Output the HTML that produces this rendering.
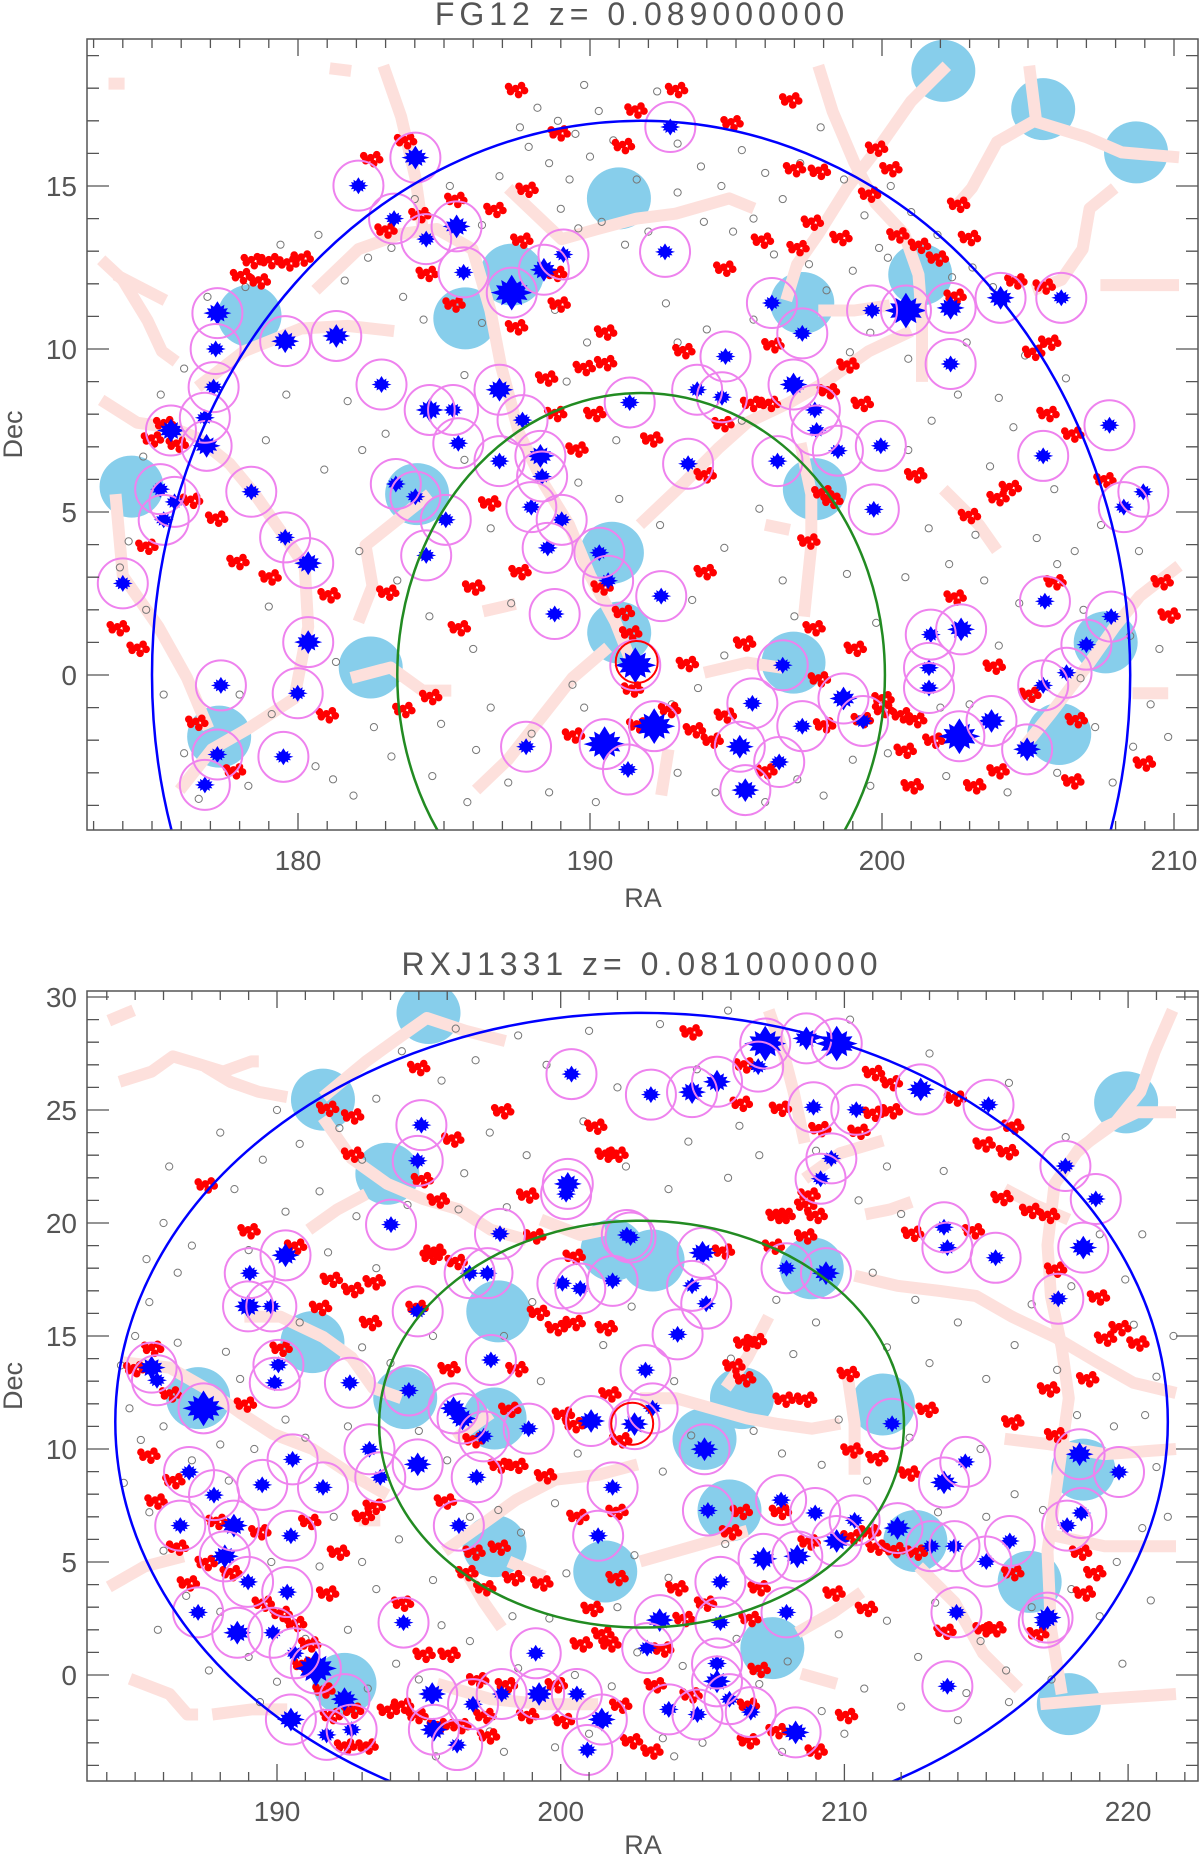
<!DOCTYPE html>
<html><head><meta charset="utf-8"><title>FG12 / RXJ1331 sky maps</title>
<style>
html,body{margin:0;padding:0;background:#fff;}
svg{display:block;}
text{font-family:"Liberation Sans",sans-serif;fill:#555;}
</style></head>
<body>
<svg id="chart" width="1200" height="1856" viewBox="0 0 1200 1856" xmlns="http://www.w3.org/2000/svg">
<defs>
<clipPath id="clipTop"><rect x="87" y="39" width="1111" height="791"/></clipPath>
<clipPath id="clipBot"><rect x="87" y="991" width="1111" height="790"/></clipPath>
</defs>
<g id="topPanel"></g>
<g id="botPanel"></g>
</svg>
<script>
// ===== FG12 panel data =====
const topTitle = "FG12  z=  0.089000000";
const topXTicks = [180,190,200,210];
const topYTicks = [0,5,10,15];
const topOuter = [191.75,0,16.75,17];
const topInner = [191.75,0,8.35,8.65];
const topRedRing = [191.6,0.4];
const topGroups = [[182.07,15.01,1],[184.02,15.87,2],[183.29,14.0,1],[184.39,13.37,1],[185.43,13.76,2],[185.67,12.35,1],[187.32,11.73,3],[189.09,12.9,1],[188.42,12.43,2],[177.24,11.10,2],[177.18,10.0,1],[177.11,8.83,1],[176.81,7.89,1],[175.65,7.5,2],[176.87,7.03,2],[175.28,5.70,1],[175.77,5.31,1],[175.40,4.76,1],[179.56,10.24,2],[181.31,10.4,2],[182.86,8.91,1],[184.51,8.13,2],[185.31,8.13,1],[185.49,7.11,1],[186.9,8.75,2],[187.69,7.82,1],[186.9,6.56,1],[188.3,6.72,2],[188.36,6.09,1],[187.99,5.15,1],[189.03,4.76,1],[188.55,3.90,1],[178.4,5.62,1],[179.56,4.22,1],[180.35,3.43,2],[183.35,5.86,1],[184.02,5.47,1],[185.06,4.76,1],[184.39,3.67,1],[174.0,2.81,1],[180.35,1.01,2],[179.99,-0.56,1],[177.36,-0.32,1],[177.24,-2.44,1],[176.81,-3.37,1],[179.5,-2.51,1],[187.81,-2.2,1],[190.5,-2.12,3],[191.3,-2.9,1],[188.79,1.87,1],[190.32,3.75,1],[190.62,2.89,1],[191.36,8.36,1],[191.55,0.3,3],
[192.75,16.81,1],[192.57,12.98,1],[196.23,11.41,1],[197.27,10.48,1],[199.66,11.18,1],[200.82,11.18,3],[202.35,11.26,2],[204.06,11.57,2],[206.14,11.57,1],[202.35,9.54,1],[194.64,9.77,1],[193.67,8.75,1],[194.52,8.52,1],[196.97,8.91,2],[197.7,8.13,1],[197.76,7.50,1],[198.49,6.88,1],[199.96,7.03,1],[196.42,6.56,1],[193.36,6.48,1],[199.72,5.08,1],[207.79,7.66,1],[205.52,6.72,1],[208.28,5.15,1],[208.95,5.62,1],[192.44,2.42,1],[205.58,2.26,1],[207.85,1.79,1],[201.67,1.24,1],[202.71,1.4,2],[201.61,0.22,1],[201.61,-0.4,1],[207.0,0.93,1],[206.32,0.07,1],[205.52,-0.32,1],[196.6,0.30,1],[195.56,-0.87,1],[198.68,-0.72,2],[197.27,-1.57,1],[199.35,-1.41,1],[195.13,-2.2,2],[196.48,-2.67,1],[195.32,-3.53,2],[192.2,-1.57,3],[202.65,-1.88,3],[203.75,-1.41,2],[204.97,-2.28,2]];
const topCyan = [[174.3,5.78],[178.34,11.02],[185.73,10.94],[187.32,12.28],[190.99,14.62],[184.08,5.55],[182.49,0.23],[177.3,-1.89],[190.75,3.75],[191.0,1.3],[202.1,18.53],[205.52,17.36],[208.7,16.03],[201.31,12.28],[197.27,11.41],[197.7,5.7],[196.97,0.38],[207.66,1.0],[206.07,-1.81]];
const topRed = [[178.4,12.74],[179.0,12.74],[179.62,12.67],[180.11,12.82],[178.03,12.28],[178.64,12.12],[175.4,7.74],[174.98,7.27],[175.83,7.11],[176.32,5.39],[177.18,4.84],[174.79,3.98],[177.91,3.51],[179.01,3.04],[181.03,2.49],[173.81,1.48],[174.49,0.85],[176.5,-1.42],[177.79,-2.91],[180.97,-1.19],[183.59,-1.03],[184.51,-0.63],[183.04,2.57],[185.49,1.48],[185.98,2.73],[187.57,3.2],[186.53,5.31],[189.52,6.96],[189.77,9.46],[190.5,10.55],[190.5,9.61],[190.13,8.05],[188.79,8.05],[188.48,9.14],[187.45,10.71],[187.81,14.93],[187.45,17.99],[188.91,16.66],[191.11,16.27],[191.54,17.36],[183.65,16.42],[182.49,15.87],[184.14,14.15],[182.98,13.68],[186.71,14.31],[185.37,14.62],[184.39,12.35],[185.31,11.41],[188.91,11.41],[188.79,12.35],[187.63,13.37],[191.36,1.32],[191.11,1.95],[191.42,-0.4],[189.4,-1.81],[191.6,-1.5],[190.38,2.73],
[192.93,17.99],[196.84,17.67],[199.78,16.19],[200.27,15.56],[194.83,16.97],[197.82,15.48],[196.97,15.56],[197.58,13.92],[197.09,13.14],[195.87,13.37],[194.58,12.51],[198.56,13.45],[199.54,14.78],[200.51,13.53],[201.25,13.21],[201.86,12.82],[202.59,14.47],[202.96,13.45],[204.55,12.12],[205.52,11.96],[205.71,10.24],[205.16,9.93],[202.47,11.65],[198.8,9.54],[199.29,8.36],[198.13,8.75],[196.23,10.16],[196.11,8.36],[195.5,8.36],[193.18,9.98],[194.52,7.74],[192.08,7.27],[193.91,6.17],[197.94,5.62],[198.25,5.39],[201.12,6.17],[203.94,5.47],[202.96,4.92],[204.36,5.78],[205.65,8.05],[206.5,7.42],[207.6,6.02],[209.56,2.89],[209.8,1.87],[202.47,2.42],[205.89,2.89],[193.91,3.2],[197.46,4.14],[197.64,1.48],[195.26,1.01],[199.05,0.85],[193.3,0.38],[192.69,-1.03],[193.54,-1.65],[194.15,-1.97],[200.02,-1.03],[200.63,-1.19],[201.12,-1.34],[200.76,-2.28],[201.74,-1.97],[201.0,-3.37],[203.14,-3.37],[203.94,-2.91],[206.5,-3.22],[206.62,-1.34],[203.81,0.3],[205.03,-0.56],[208.95,-2.67],[195.99,-2.91],[197.82,-0.09],[199.29,-1.34],[194.6,-1.2],[198.0,-1.5],[200.0,-0.7]];
const topGray = [[188.2,17.4],[188.9,17.0],[189.5,16.6],[190.3,17.3],[189.8,18.1],[187.9,16.2],[188.6,15.7],[189.3,15.2],[190.0,15.9],[192.3,17.9],[193.0,16.3],[193.8,15.6],[194.5,15.0],[195.2,16.1],[196.0,15.4],[196.6,14.6],[197.9,16.8],[198.7,15.2],[199.4,14.1],[200.3,15.0],[201.0,14.2],[201.9,13.5],[203.1,12.5],[203.8,11.9],[202.4,12.2],[200.2,12.8],[199.0,12.4],[198.1,11.8],[194.9,13.6],[193.9,13.9],[193.0,14.8],[192.0,13.6],[191.2,13.2],[190.4,13.9],[189.6,13.7],[186.3,13.8],[185.2,15.0],[184.0,14.6],[183.2,13.1],[182.4,12.8],[181.6,12.1],[180.7,13.5],[179.4,13.2],[178.2,11.9],[176.9,11.6],[176.1,9.4],[175.3,8.6],[174.7,6.7],[174.2,4.1],[173.9,3.3],[174.8,2.0],[175.4,-0.6],[176.1,-2.4],[176.6,-3.8],[178.3,-3.4],[179.1,-1.2],[180.6,-2.8],[181.9,-3.7],[183.2,-2.5],[184.6,-3.1],[185.8,-3.9],[186.6,-1.0],[187.2,-3.3],[188.6,-3.6],[189.4,-0.3],[190.2,-3.9],[193.0,-3.0],[193.7,-0.4],[194.6,0.6],[196.0,-3.9],[198.0,-3.7],[199.6,-3.4],[200.2,-2.4],[202.2,-3.1],[203.0,-0.9],[204.3,-3.6],[205.1,-0.7],[206.0,-3.0],[207.3,-1.6],[207.9,-3.3],[208.6,-2.2],[209.2,-0.9],[209.8,-1.9],[209.5,0.8],[208.5,1.2],[206.9,2.0],[206.0,3.4],[205.3,4.2],[204.7,2.2],[203.5,2.9],[202.3,3.4],[201.6,4.5],[200.8,3.0],[199.8,1.6],[200.9,6.9],[201.7,7.8],[202.6,8.6],[203.7,6.4],[204.5,7.6],[204.9,9.8],[206.3,9.1],[205.9,5.7],[203.2,4.3],[198.9,9.9],[199.6,10.5],[200.9,9.7],[197.5,12.6],[196.3,12.9],[195.6,10.9],[194.0,10.6],[193.0,10.2],[192.6,11.4],[189.9,10.2],[189.2,9.0],[188.8,11.2],[186.3,10.8],[185.7,9.2],[184.3,10.9],[183.6,11.6],[181.7,8.4],[182.2,6.9],[180.9,6.3],[178.9,7.2],[179.6,8.6],[186.6,4.5],[187.3,2.2],[186.0,0.8],[184.5,1.8],[183.4,2.9],[182.1,3.8],[181.3,0.4],[178.0,-0.6],[179.0,2.1],[189.8,-1.0],[192.4,4.6],[193.5,2.3],[194.6,3.9],[195.8,5.1],[196.6,2.9],[197.0,1.8],[198.8,3.1],[195.2,7.8],[191.0,5.4],[189.6,5.9],[190.9,7.2],[185.7,6.6],[183.0,7.4],[207.5,4.6],[208.8,3.8],[206.8,-0.1],[187.6,16.8],[190.8,16.4],[191.6,15.2],[186.9,15.3],[189.0,14.3],[195.6,14.0],[197.2,15.7],[199.9,13.1],[202.9,10.2],[204.0,8.5],[206.6,3.8],[204.0,0.9],[202.0,-1.0],[199.0,-2.6],[197.1,-3.2],[194.3,-3.6],[192.8,-0.9],[188.0,-1.8],[186.1,-2.3],[182.6,-1.6],[181.2,-3.2],[184.9,-1.5]];
const topFil = [
 [[173.26,12.74],[174.0,12.12],[174.85,10.87],[175.34,9.93],[175.83,9.61]],
 [[173.75,12.28],[175.46,11.49]],
 [[173.26,8.44],[174.49,7.74],[175.71,7.58],[176.56,7.27],[177.66,6.48],[178.52,5.55],[179.38,4.45],[180.23,3.35],[180.35,1.48],[179.87,-0.72],[178.28,-1.65],[177.05,-2.28],[175.95,-3.53]],
 [[173.75,5.55],[174.0,3.04],[175.22,1.48],[176.2,-0.09],[176.93,-1.65]],
 [[176.56,8.83],[178.15,9.93],[180.11,10.63],[181.7,10.71],[183.29,10.55]],
 [[180.6,11.8],[182.07,13.06],[183.53,13.53],[184.76,13.68],[185.98,13.06],[186.59,11.18],[186.96,9.46],[187.57,7.42],[188.42,5.86],[189.28,4.61],[190.01,3.04],[190.87,1.63],[191.42,0.38]],
 [[182.92,18.69],[183.53,17.13],[184.02,15.25],[184.27,13.68]],
 [[181.09,18.61],[181.82,18.53]],
 [[173.51,18.14],[174.06,18.14]],
 [[187.2,14.93],[189.03,13.37],[190.26,13.68],[191.6,14.0],[192.93,14.15],[194.77,14.62],[195.62,14.31]],
 [[184.51,5.55],[182.31,3.98],[182.55,2.73],[182.07,1.63]],
 [[181.82,-0.09],[183.17,0.23],[184.27,-0.48],[185.25,-0.48]],
 [[186.1,-3.53],[187.2,-2.59],[188.3,-1.34],[189.4,-0.09],[190.62,0.85]],
 [[186.34,1.95],[187.45,2.18]],
 [[197.82,18.69],[198.31,17.28],[199.05,15.72],[199.78,14.47],[200.76,13.53],[201.25,12.28],[201.37,10.87],[201.37,8.99]],
 [[202.22,18.69],[201.0,17.6],[200.02,16.35],[198.8,14.94],[197.82,13.53],[197.09,12.59],[196.72,11.49]],
 [[205.04,18.69],[205.28,16.97],[207.0,16.5],[208.21,16.03],[210.17,15.88]],
 [[205.16,16.97],[203.94,16.35],[203.08,14.94],[202.47,14.31]],
 [[207.97,14.94],[207.11,14.31],[206.87,13.06],[206.14,12.12],[205.16,11.8]],
 [[207.48,11.96],[210.17,11.96]],
 [[197.82,11.18],[199.05,11.18],[200.27,11.34]],
 [[191.71,4.61],[193.18,5.86],[194.4,6.96],[195.38,7.74],[196.84,8.36],[198.07,8.99],[199.54,9.93],[201.0,10.55]],
 [[197.21,7.11],[197.58,5.55],[197.58,3.98],[197.33,1.79]],
 [[202.1,5.7],[203.32,4.61],[203.94,3.82]],
 [[193.91,0.07],[195.38,0.38],[196.6,0.22]],
 [[210.17,3.35],[208.83,2.42],[207.97,1.48],[207.11,0.38],[205.77,-1.19],[204.79,-2.28]],
 [[208.58,-0.56],[209.8,-0.56]],
 [[196.0,4.61],[196.84,4.45]],
 [[192.44,-3.69],[192.69,-2.28]]
];

// ===== RXJ1331 panel data =====
const botTitle = "RXJ1331  z=  0.081000000";
const botXTicks = [190,200,210,220];
const botYTicks = [0,5,10,15,20,25,30];
const botOuter = [202.85,11.2,18.55,18.1];
const botInner = [202.85,11.1,9.25,9.0];
const botRedRing = [202.52,11.12];
const botGroups = [[200.38,26.59,1],[195.09,24.33,1],[194.96,22.75,1],[200.25,21.73,2],[200.19,21.28,1],[194.02,19.93,1],[197.86,19.52,1],[190.3,18.57,2],[189.04,17.78,1],[188.98,16.31,2],[189.8,16.31,1],[190.05,13.72,1],[189.92,12.93,1],[185.58,13.6,2],[185.77,13.04,1],[187.41,11.8,3],[192.57,12.93,1],[194.96,16.09,1],[196.79,17.78,1],[197.42,17.78,1],[200.06,17.33,1],[200.69,17.1,1],[201.83,17.44,1],[202.46,19.36,1],[197.54,13.94,1],[194.65,12.59,1],[196.22,11.8,2],[196.54,11.35,2],[197.29,10.56,1],[198.87,10.9,1],[201.07,11.24,2],[190.55,9.54,1],[189.48,8.41,1],[191.62,8.3,1],[193.26,9.99,1],[193.64,8.75,1],[194.96,9.32,2],[197.04,8.75,1],[186.9,8.98,1],[187.78,7.96,1],[186.59,6.61,1],[188.48,6.61,2],[190.49,6.16,1],[188.16,5.25,2],[188.98,4.12,1],[190.36,3.67,1],[187.22,2.77,1],[188.6,1.87,2],[189.86,1.87,1],[191.37,0.29,3],[190.62,0.96,1],[192.38,-1.07,2],[190.49,-1.97,2],[191.75,-2.65,1],[192.63,-2.42,1],[194.46,2.32,1],[196.41,6.61,1],[195.47,-0.84,2],[195.53,-2.42,2],[196.35,-3.1,1],[196.91,-1.29,1],[197.92,-0.84,1],[199.12,0.96,1],[199.24,-0.84,2],[200.57,-0.84,1],[200.94,-3.32,1],[201.45,-1.97,2],[201.32,6.16,1],[201.83,8.3,1],[202.33,19.47,1],
[207.21,27.94,3],[208.66,28.17,2],[209.73,27.94,3],[206.96,26.92,1],[205.51,26.25,2],[204.63,25.79,2],[203.18,25.68,1],[208.91,25.12,1],[210.42,25.01,1],[212.69,25.91,2],[215.08,25.23,1],[209.54,22.86,1],[209.16,21.96,1],[217.79,22.52,1],[218.86,21.06,1],[213.51,19.81,1],[213.63,18.91,1],[215.33,18.46,1],[218.42,18.91,2],[217.54,16.65,1],[205.0,18.68,2],[204.63,17.22,1],[205.13,16.43,1],[204.12,15.07,1],[202.99,13.49,1],[203.24,11.8,1],[205.07,9.99,2],[207.96,18.0,1],[209.35,17.78,2],[211.68,11.12,1],[218.29,9.77,2],[219.68,8.98,1],[218.35,7.17,1],[217.85,6.61,1],[214.26,9.43,1],[213.51,8.52,2],[205.19,7.28,1],[207.77,7.74,1],[208.97,7.17,1],[210.36,6.84,1],[211.87,6.5,2],[209.73,5.93,2],[207.15,5.14,2],[208.34,5.25,2],[213.06,5.7,1],[213.88,5.7,1],[215.0,5.02,1],[215.83,5.93,1],[217.16,2.54,2],[217.03,2.32,1],[213.95,2.77,1],[213.63,-0.5,1],[205.63,4.12,1],[207.96,2.77,1],[205.63,2.32,1],[203.49,2.43,2],[203.05,1.19,1],[205.51,0.51,1],[205.51,-0.28,2],[205.95,-1.07,1],[206.7,-1.64,1],[203.81,-1.52,1],[204.82,-1.75,1],[208.28,-2.54,2],[202.6,11.1,2]];
const botCyan = [[195.34,29.29],[191.62,25.46],[193.89,22.18],[197.8,16.09],[191.25,14.73],[187.22,12.25],[194.52,12.25],[197.67,11.35],[197.67,5.7],[192.38,-0.39],[201.83,18.8],[201.57,4.58],[219.93,25.34],[203.24,18.34],[208.85,18.0],[206.39,12.25],[205.07,10.45],[211.36,11.97],[218.42,9.09],[205.95,7.28],[212.5,5.93],[216.53,4.12],[207.46,1.19],[217.91,-1.29]];
const botRed = [[187.47,21.73],[191.75,25.12],[192.63,24.78],[194.96,26.92],[197.92,25.01],[196.16,23.76],[192.63,23.09],[195.09,21.96],[188.98,19.7],[190.62,19.02],[191.88,17.55],[192.63,17.1],[193.39,17.44],[191.5,16.31],[190.11,14.5],[193.26,15.64],[194.9,16.31],[195.4,18.57],[195.65,21.06],[198.8,21.28],[201.2,24.33],[201.57,23.09],[201.95,23.09],[196.28,18.34],[199.05,19.47],[200.44,18.57],[199.18,16.09],[199.81,15.41],[200.44,15.64],[198.42,13.6],[198.17,11.8],[196.91,10.45],[197.8,9.32],[198.42,9.32],[200.06,11.58],[200.44,11.12],[201.7,12.48],[196.03,13.6],[195.53,18.8],[188.85,12.03],[186.21,12.48],[185.58,14.5],[184.95,13.6],[185.45,9.77],[186.33,8.64],[185.7,7.74],[186.46,5.7],[186.84,4.12],[187.85,6.84],[187.47,5.02],[188.35,4.57],[189.36,6.38],[189.48,3.22],[190.11,2.77],[190.62,2.32],[190.87,0.51],[191.62,-0.62],[191.88,-1.75],[192.63,-1.52],[192.38,-3.1],[193.14,-3.1],[193.89,-1.52],[194.39,-1.29],[194.9,-1.75],[195.15,0.96],[196.03,0.96],[195.65,-2.2],[196.41,-2.2],[197.04,-0.17],[197.29,-1.75],[197.42,-2.65],[198.05,-0.39],[198.8,-1.75],[199.81,-0.39],[200.06,-1.97],[200.69,1.42],[201.45,1.87],[202.08,-1.29],[202.46,-2.87],[197.29,3.9],[197.8,5.7],[196.91,5.48],[195.9,7.74],[193.01,7.06],[193.39,7.51],[192.13,5.48],[191.75,3.67],[191.12,6.84],[191.12,1.42],[194.39,3.22],[196.66,4.57],[198.3,4.35],[199.3,4.12],[199.43,8.86],[200.57,7.06],[201.95,7.28],[201.07,2.99],[201.95,4.35],[201.7,1.42],[202.08,10.45],[201.57,15.41],
[204.56,28.5],[206.45,27.04],[206.33,25.34],[207.71,25.12],[210.99,24.9],[211.62,25.01],[210.99,26.7],[211.62,26.25],[213.88,25.57],[215.9,24.33],[209.1,24.22],[210.48,24.1],[215.71,23.2],[214.89,23.54],[208.72,21.28],[208.97,20.38],[207.84,20.38],[207.46,19.02],[208.6,19.47],[205.7,18.8],[206.45,14.73],[206.83,14.84],[206.07,13.72],[206.45,13.15],[207.84,12.25],[208.6,12.25],[210.1,13.38],[210.23,10.0],[211.11,9.66],[212.25,8.98],[212.88,11.8],[212.37,19.59],[214.51,19.7],[215.52,21.17],[216.53,20.6],[217.16,20.38],[217.41,18.0],[218.92,16.77],[219.68,15.41],[220.31,14.73],[219.17,14.95],[218.54,13.15],[217.16,12.7],[217.41,10.67],[215.9,11.24],[218.29,5.48],[218.79,4.57],[218.42,3.67],[216.78,1.87],[215.9,4.57],[214.89,2.09],[215.27,2.09],[213.51,1.98],[211.11,5.7],[211.74,5.59],[212.5,5.48],[210.23,6.16],[210.86,6.38],[208.72,5.93],[209.6,3.67],[210.74,2.99],[207.71,7.28],[206.33,7.28],[205.95,6.38],[206.96,3.9],[205.07,3.22],[204.06,3.9],[204.31,2.54],[203.56,1.19],[203.3,-0.39],[204.56,-0.84],[206.58,-1.29],[206.96,0.29],[207.59,-2.42],[208.97,-3.32],[210.04,-1.75],[206.58,-2.87],[203.18,-3.32],[208.6,20.83],[207.59,20.38],[206.64,2.54]];
const botGray = [[186,20],[187,19],[188.5,21.5],[189.5,22.8],[190.8,23.5],[192.2,24.2],[193.5,25.5],[195.8,26.3],[197.0,27.2],[198.5,28.3],[199.5,27.0],[201.0,28.5],[203.5,28.8],[202.0,26.0],[197.5,24.0],[198.8,23.0],[196.6,22.2],[193.0,22.8],[191.5,21.4],[190.3,20.5],[189.0,18.8],[186.5,17.8],[185.5,16.5],[185.0,15.0],[184.8,11.8],[185.2,10.4],[184.6,8.5],[185.5,7.2],[186.0,5.5],[186.8,3.5],[188.0,2.8],[189.0,0.8],[190.0,-0.3],[191.0,1.6],[192.5,2.0],[193.5,3.8],[193.0,5.0],[194.2,0.5],[195.0,-0.2],[195.8,2.2],[196.8,1.5],[197.5,-2.5],[198.5,0.3],[199.6,2.5],[199.8,-3.2],[200.5,0.0],[201.8,-0.5],[202.7,1.0],[203.6,-2.8],[204.3,0.4],[205.0,-3.0],[206.2,1.6],[207.0,-0.4],[208.0,0.6],[209.2,-1.6],[209.8,1.8],[210.7,-0.6],[211.5,2.4],[212.6,0.8],[213.2,3.2],[214.3,-0.8],[214.8,1.5],[215.7,0.2],[216.6,3.0],[217.3,-0.2],[218.0,3.8],[219.0,2.6],[219.6,5.0],[220.5,6.5],[221.0,9.2],[220.6,11.5],[221.0,13.2],[220.2,15.5],[219.9,17.5],[219.0,19.5],[218.0,17.2],[216.6,16.4],[216.0,14.6],[217.5,13.5],[215.0,13.1],[214.0,15.6],[212.5,16.6],[211.5,14.5],[211.0,17.8],[212.0,20.4],[213.5,22.3],[211.5,22.5],[210.5,21.0],[209.0,23.2],[207.0,23.0],[205.9,22.0],[204.5,23.6],[203.8,21.5],[202.3,22.5],[200.8,24.5],[204.8,26.8],[206.3,24.3],[207.6,16.6],[209.0,15.6],[208.2,14.2],[209.8,11.3],[210.8,8.6],[209.2,9.3],[207.8,9.8],[206.8,10.8],[204.0,13.0],[201.5,14.6],[202.5,16.3],[199.0,16.5],[198.0,15.0],[199.3,13.0],[200.6,9.8],[199.8,7.6],[198.6,6.3],[200.2,4.5],[202.6,5.3],[203.8,4.3],[202.0,3.0],[203.6,9.0],[204.6,10.6],[206.0,14.0],[195.5,15.0],[194.0,13.8],[193.0,14.5],[192.5,11.0],[191.0,10.5],[190.3,11.3],[188.0,10.2],[187.0,9.5],[186.5,14.7],[188.2,14.3],[190.8,15.6],[191.8,18.7],[193.5,18.0],[192.0,7.0],[194.3,6.0],[195.5,4.2],[196.8,7.0],[197.8,7.3],[196.0,9.5],[195.0,10.8],[198.3,2.6],[205.8,5.8],[212.3,10.5],[213.0,13.8],[214.8,10.0],[216.0,8.0],[217.0,7.3],[215.0,7.0],[213.3,7.2],[219.5,11.0],[218.2,11.5],[186.2,22.5],[188.0,24.0],[190.0,25.0],[194.4,27.6],[196.3,28.6],[185.4,18.4],[184.5,13.7],[185.8,2.0],[187.6,0.2],[189.4,-1.2],[193.2,-0.6],[195.6,-3.6],[198.0,-3.4],[201.0,-2.6],[204.0,-3.6],[207.8,-3.4],[210.0,-2.6],[212.0,-1.4],[214.0,-2.0],[215.8,-1.2],[219.8,0.5],[220.8,3.3],[221.4,7.0],[221.6,15.0],[220.5,19.5],[217.8,23.8],[215.8,26.2],[213.0,27.5],[210.2,29.0],[205.9,29.4],[192.8,20.3],[194.6,20.8],[196.4,20.6],[198.1,20.7],[188.7,13.1],[186.0,11.0],[189.2,10.0],[191.5,4.8],[189.8,5.0],[188.3,8.6]];
const botFil = [
 [[184.07,28.95],[184.95,29.41]],
 [[184.45,26.25],[185.58,26.7],[186.33,27.37],[187.22,27.04],[188.1,26.7],[189.1,27.15],[189.36,27.15]],
 [[187.47,26.92],[188.35,26.25],[189.36,25.8],[190.36,25.57]],
 [[191.62,25.57],[193.14,27.15],[194.39,28.28],[195.28,29.07],[196.66,28.5],[198.05,28.05]],
 [[191.62,24.67],[192.63,22.86],[193.89,21.73],[195.15,21.06],[196.41,20.6],[197.54,19.7],[198.8,19.25]],
 [[199.3,20.15],[200.69,19.47],[201.57,19.7]],
 [[184.57,13.83],[186.21,13.6],[187.47,12.7],[188.73,11.58],[189.86,10.67],[191.25,10.0],[192.63,8.86],[193.89,7.96]],
 [[188.85,15.86],[190.11,15.86],[191.62,14.96],[192.63,14.05],[193.39,12.7],[194.39,12.25]],
 [[191.12,19.7],[192.13,20.6],[193.14,21.28]],
 [[184.07,3.9],[185.33,4.8],[186.71,5.25]],
 [[184.82,-0.17],[186.21,-0.84],[186.84,-1.75],[187.22,-1.75]],
 [[187.72,-1.75],[189.1,-1.52],[190.36,-1.52]],
 [[195.9,5.48],[197.17,6.61],[198.42,7.74],[199.81,8.64],[201.32,8.86],[202.71,9.32]],
 [[196.66,4.57],[197.29,3.22],[197.92,2.09]],
 [[196.28,10.45],[197.54,11.58]],
 [[198.17,5.02],[199.43,4.35]],
 [[195.65,-0.39],[197.54,-1.07],[199.43,-1.29],[201.32,-1.29]],
 [[192.88,6.84],[193.64,6.84]],
 [[221.57,29.41],[220.94,27.6],[220.43,25.8],[219.55,24.44],[218.29,23.31],[217.41,21.73],[217.16,19.02],[217.28,16.77],[217.66,14.5],[217.91,12.25],[217.66,10.0],[217.41,7.74],[217.16,5.48],[217.28,2.09],[217.66,-0.84]],
 [[221.69,24.9],[220.31,24.9],[219.17,24.22],[218.16,23.09]],
 [[207.33,29.41],[207.84,27.6],[208.21,25.8],[208.6,23.54]],
 [[208.6,21.96],[209.85,23.09],[211.36,23.65]],
 [[210.74,20.38],[211.62,20.6],[212.37,20.94]],
 [[215.65,21.51],[216.65,20.83],[217.91,20.15]],
 [[210.36,17.67],[211.87,17.22],[213.38,16.99],[214.64,16.77],[215.9,15.86],[217.41,14.96],[218.92,13.83],[220.19,12.93],[221.69,12.48]],
 [[210.1,13.38],[210.36,11.12],[210.36,8.86]],
 [[215.65,10.45],[217.16,10.22],[219.17,9.77],[221.69,10.0]],
 [[217.41,6.16],[219.17,5.7],[221.69,5.7]],
 [[216.91,-1.29],[218.92,-1.07],[221.69,-0.84]],
 [[212.62,4.8],[213.88,3.22],[214.89,0.96],[216.15,-0.62]],
 [[202.8,12.25],[204.06,12.25],[205.32,11.8],[206.58,11.35],[207.59,11.12],[208.85,10.9],[209.85,11.12]],
 [[207.33,15.86],[206.58,14.05],[205.82,12.7]],
 [[208.47,0.06],[209.73,-0.39]],
 [[202.8,5.02],[204.69,5.7],[206.58,6.38]],
 [[208.34,1.87],[209.6,2.77],[210.61,3.67]]
];

// ===== rendering =====
const NS = "http://www.w3.org/2000/svg";
function mk(tag, attrs, parent){ const e=document.createElementNS(NS,tag); for(const k in attrs) e.setAttribute(k,attrs[k]); parent.appendChild(e); return e; }

function drawPanel(root, P){
  const xs = ra => P.x0 + (ra - P.raRef) * P.pxDeg;
  const ys = dec => P.y0 - dec * P.pyDeg;
  const L=P.left, R=P.right, T=P.top, B=P.bottom;
  const g = mk('g',{'clip-path':`url(#${P.clip})`},root);

  const cyanG = mk('g',{},g);
  
  
  P.cyan.forEach(c=>{
    const e=mk('ellipse',{cx:xs(c[0]),cy:ys(c[1]),rx:32,ry:31,fill:'#87ceeb'},cyanG);
    
    
  });
  const filG = mk('g',{},g);
  
  
  P.fil.forEach(f=>{
    const d=f.map((p,i)=>(i?'L':'M')+xs(p[0]).toFixed(1)+' '+ys(p[1]).toFixed(1)).join(' ');
    const e=mk('path',{d:d,fill:'none',stroke:'#fde0dc','stroke-width':12,'stroke-linejoin':'round'},filG);
    
    
  });
  const grayG = mk('g',{},g);
  
  
  P.gray.forEach(p=>{
    const e=mk('circle',{cx:xs(p[0]),cy:ys(p[1]),r:3.6,fill:'none',stroke:'#777','stroke-width':1},grayG);
    
    
  });
  const redG = mk('g',{},g);
  
  
  const off=[[0,0],[6,-3],[-5,3],[3,6],[-7,-2],[9,2]];
  P.red.forEach(p=>{
    const cx=xs(p[0]), cy=ys(p[1]);
    off.forEach(o=>{
      const e=mk('circle',{cx:cx+o[0],cy:cy+o[1],r:3.8,fill:'#ff0000'},redG);
      
      
    });
  });
  const blueG = mk('g',{},g);
  
  
  const star=[[1,0],[0.6,0.12],[0.75,0.35],[0.45,0.32],[0.5,0.6],[0.25,0.45],[0,0.85],[-0.25,0.45],[-0.5,0.6],[-0.45,0.32],[-0.75,0.35],[-0.6,0.12],[-1,0],[-0.6,-0.12],[-0.75,-0.35],[-0.45,-0.32],[-0.5,-0.6],[-0.25,-0.45],[0,-0.85],[0.25,-0.45],[0.5,-0.6],[0.45,-0.32],[0.75,-0.35],[0.6,-0.12]];
  const sz=[0,10,14,21];
  P.groups.forEach(p=>{
    const cx=xs(p[0]), cy=ys(p[1]), s=sz[p[2]];
    const pts=star.map(q=>(cx+q[0]*s).toFixed(1)+','+(cy+q[1]*s).toFixed(1)).join(' ');
    const e=mk('polygon',{points:pts,fill:'#0000ff'},blueG);
    
    
  });
  const magG = mk('g',{},g);
  
  
  P.groups.forEach(p=>{
    const e=mk('circle',{cx:xs(p[0]),cy:ys(p[1]),r:25,fill:'none',stroke:'#ee82ee','stroke-width':2},magG);
    
    
  });
  const o=P.outer, n=P.inner;
  const oe=mk('ellipse',{cx:xs(o[0]),cy:ys(o[1]),rx:o[2]*P.pxDeg,ry:o[3]*P.pyDeg,fill:'none',stroke:'#0000ff','stroke-width':2.5},g);
  
  
  const ie=mk('ellipse',{cx:xs(n[0]),cy:ys(n[1]),rx:n[2]*P.pxDeg,ry:n[3]*P.pyDeg,fill:'none',stroke:'#228b22','stroke-width':2.5},g);
  
  
  const rr=mk('circle',{cx:xs(P.ring[0]),cy:ys(P.ring[1]),r:21,fill:'none',stroke:'#ff0000','stroke-width':2},g);
  
  

  const ax = mk('g',{},root);
  
  
  const frame=mk('rect',{x:L,y:T,width:R-L,height:B-T,fill:'none',stroke:'#555','stroke-width':1.5},ax);
  
  
  let tk='';
  for(let ra=Math.ceil(P.raMin); ra<=P.raMax; ra++){
    const x=xs(ra), major = P.xTicks.includes(ra), len= major?17:9;
    tk+=`M${x} ${B}V${B-len}M${x} ${T}V${T+len}`;
  }
  for(let d=Math.ceil(P.decMin); d<=P.decMax; d++){
    const y=ys(d), major = P.yTicks.includes(d), len= major?22:12;
    tk+=`M${L} ${y}H${L+len}M${R} ${y}H${R-len}`;
  }
  const tp=mk('path',{d:tk,stroke:'#555','stroke-width':1.3,fill:'none'},ax);
  
  
  P.xTicks.forEach(v=>{
    const t=mk('text',{x:xs(v),y:B+40,'text-anchor':'middle','font-size':28},ax);
    t.textContent=v;
    
    
  });
  P.yTicks.forEach(v=>{
    const t=mk('text',{x:L-10,y:ys(v)+10,'text-anchor':'end','font-size':28},ax);
    t.textContent=v;
    
    
  });
  const xt=mk('text',{x:643,y:B+P.raOff,'text-anchor':'middle','font-size':27},ax);
  xt.textContent='RA';
  
  
  const yc=(T+B)/2;
  const yt=mk('text',{x:22,y:yc,'text-anchor':'middle','font-size':27,transform:`rotate(-90 22 ${yc})`},ax);
  yt.textContent='Dec';
  
  
  const tt=mk('text',{x:642,y:P.titleY,'text-anchor':'middle','font-size':32,'letter-spacing':5},ax);
  tt.textContent=P.title;
  
  
}

drawPanel(document.getElementById('topPanel'),{
  x0:298, raRef:180, pxDeg:29.2, y0:675, pyDeg:32.6,
  left:87, right:1198, top:39, bottom:830, clip:'clipTop', raOff:77,
  raMin:172.8, raMax:210.8, decMin:-4.7, decMax:19.4,
  xTicks:topXTicks, yTicks:topYTicks, title:topTitle, titleY:25,
  outer:topOuter, inner:topInner, ring:topRedRing,
  groups:topGroups, cyan:topCyan, red:topRed, gray:topGray, fil:topFil
});
drawPanel(document.getElementById('botPanel'),{
  x0:277, raRef:190, pxDeg:28.37, y0:1675, pyDeg:22.6,
  left:87, right:1198, top:991, bottom:1781, clip:'clipBot', raOff:73,
  raMin:183.4, raMax:222.4, decMin:-4.6, decMax:30.2,
  xTicks:botXTicks, yTicks:botYTicks, title:botTitle, titleY:975,
  outer:botOuter, inner:botInner, ring:botRedRing,
  groups:botGroups, cyan:botCyan, red:botRed, gray:botGray, fil:botFil
});
</script>
</body></html>
